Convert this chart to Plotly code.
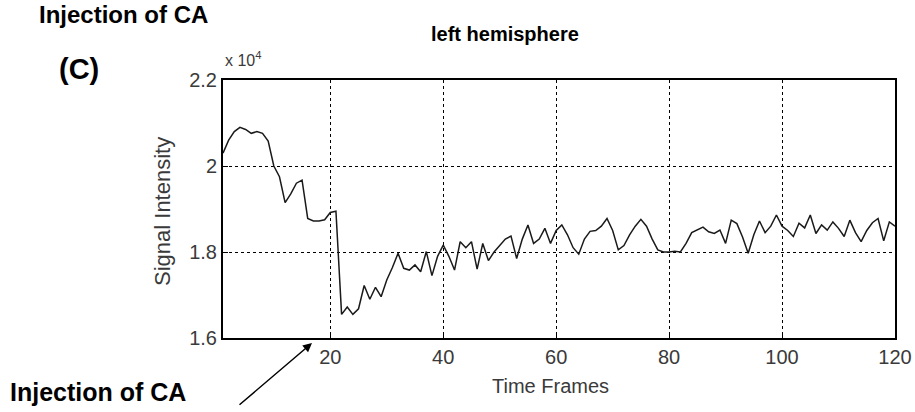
import plotly.graph_objects as go

# Data (signal intensity in units of 10^4)
frames = list(range(1, 121))
signal = [
    2.03, 2.06, 2.08, 2.09, 2.085, 2.076, 2.08, 2.076, 2.058, 2.00,
    1.975, 1.915, 1.935, 1.96, 1.967, 1.878, 1.872, 1.872, 1.875, 1.892,
    1.895, 1.655, 1.672, 1.655, 1.668, 1.722, 1.69, 1.718, 1.696, 1.735,
    1.764, 1.797, 1.762, 1.758, 1.770, 1.754, 1.801, 1.745, 1.790, 1.816,
    1.79, 1.758, 1.824, 1.81, 1.824, 1.76, 1.82, 1.78, 1.80, 1.815,
    1.83, 1.837, 1.785, 1.83, 1.863, 1.82, 1.83, 1.855, 1.82, 1.85,
    1.863, 1.84, 1.81, 1.795, 1.83, 1.848, 1.85, 1.86, 1.878, 1.85,
    1.805, 1.815, 1.84, 1.86, 1.876, 1.86, 1.83, 1.805, 1.80, 1.80,
    1.802, 1.80, 1.82, 1.845, 1.852, 1.858, 1.847, 1.843, 1.851, 1.82,
    1.874, 1.866, 1.835, 1.797, 1.84, 1.872, 1.845, 1.86, 1.886, 1.86,
    1.85, 1.836, 1.867, 1.856, 1.886, 1.843, 1.863, 1.851, 1.87, 1.855,
    1.836, 1.874, 1.845, 1.824, 1.85, 1.868, 1.878, 1.826, 1.87, 1.86,
]
x_ticks = [20, 40, 60, 80, 100, 120]
y_ticks = [1.6, 1.8, 2.0, 2.2]
y_tick_text = ["1.6", "1.8", "2", "2.2"]

W, H = 915, 412
L, R, T, B = 223, 20, 80, 74
PW, PH = W - L - R, H - T - B


def px(x):
    return (x - L) / PW


def py(y):
    return (H - B - y) / PH


fig = go.Figure()
fig.add_trace(go.Scatter(
    x=frames, y=signal, mode="lines",
    line=dict(color="#1a1a1a", width=1.5),
    showlegend=False, hoverinfo="skip",
))

axis_font = dict(family="Liberation Sans, Arial, sans-serif", size=20, color="#3a3a3a")

fig.update_layout(
    width=W, height=H,
    margin=dict(l=L, r=R, t=T, b=B),
    paper_bgcolor="white", plot_bgcolor="white",
    xaxis=dict(
        range=[1, 120], tickvals=x_ticks, ticktext=[str(v) for v in x_ticks],
        showgrid=True, gridcolor="black", griddash="dot", gridwidth=1,
        showline=True, linecolor="black", linewidth=2, mirror=True,
        ticks="inside", ticklen=5, tickcolor="black",
        tickfont=axis_font, zeroline=False, automargin=False,
    ),
    yaxis=dict(
        range=[1.6, 2.2], tickvals=y_ticks, ticktext=y_tick_text,
        showgrid=True, gridcolor="black", griddash="dot", gridwidth=1,
        showline=True, linecolor="black", linewidth=2, mirror=True,
        ticks="inside", ticklen=5, tickcolor="black",
        tickfont=axis_font, zeroline=False, automargin=False,
    ),
)

fam = "Liberation Sans, Arial, sans-serif"
ann = [
    dict(text="<b>left hemisphere</b>", x=px(505), y=py(34), size=20, xanchor="center", color="black", angle=0),
    dict(text="<b>(C)</b>", x=px(79), y=py(69), size=29, xanchor="center", color="black", angle=0),
    dict(text="<b>Injection of CA</b>", x=px(37), y=py(14), size=24, xanchor="left", color="black", angle=0),
    dict(text="<b>Injection of CA</b>", x=px(8), y=py(392), size=25, xanchor="left", color="black", angle=0),
    dict(text="x 10<sup>4</sup>", x=px(223), y=py(59), size=16, xanchor="left", color="#3a3a3a", angle=0),
    dict(text="Time Frames", x=px(550), y=py(386), size=20, xanchor="center", color="#3a3a3a", angle=0),
    dict(text="Signal Intensity", x=px(162), y=py(212), size=22, xanchor="center", color="#3a3a3a", angle=-90),
]
for a in ann:
    fig.add_annotation(
        text=a["text"], x=a["x"], y=a["y"], xref="paper", yref="paper",
        xanchor=a["xanchor"], yanchor="middle", showarrow=False, textangle=a["angle"],
        font=dict(family=fam, size=a["size"], color=a["color"]),
    )

# Arrow pointing to the injection frame
fig.add_annotation(
    x=px(312), y=py(343), xref="paper", yref="paper", text="",
    showarrow=True, ax=238 - 312, ay=406 - 343, axref="pixel", ayref="pixel",
    arrowhead=2, arrowsize=1.2, arrowwidth=1.5, arrowcolor="black",
)

fig.write_html(
    "out.html",
    config={"displayModeBar": False},
    post_script="document.body.style.margin='0';document.body.style.padding='0';",
)
